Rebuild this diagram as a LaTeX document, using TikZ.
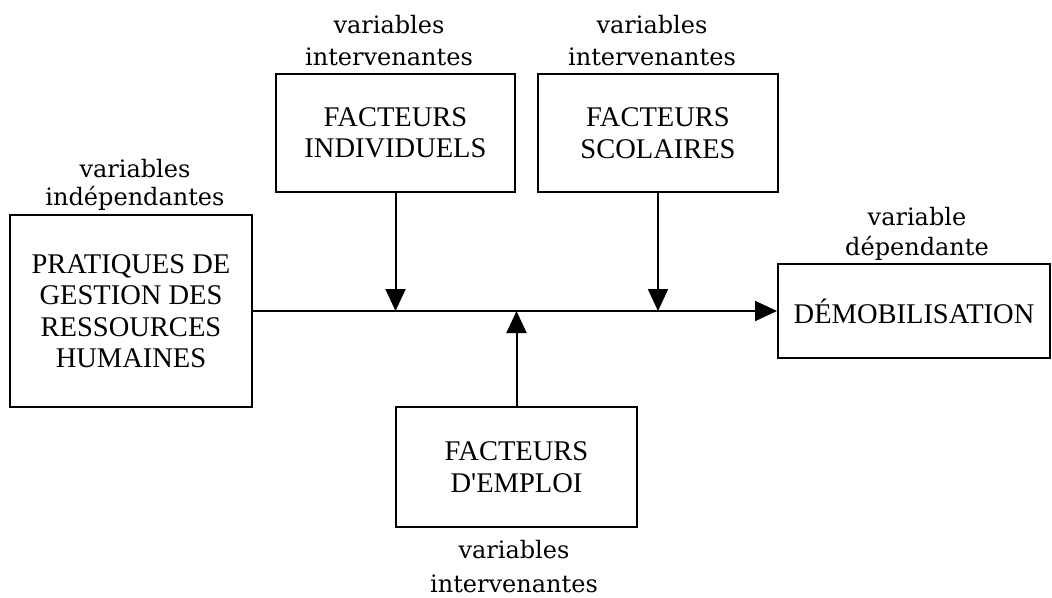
\documentclass[tikz,border=0pt]{standalone}
\usepackage{fontspec}
\setmainfont{Liberation Serif}
\newfontfamily\labfont{DejaVu Serif}
\usetikzlibrary{arrows.meta}
\begin{document}
\begin{tikzpicture}[x=1pt,y=-1pt,
  boxnode/.style={draw,line width=2pt,rectangle,inner sep=0pt,align=center,font=\fontsize{28.5}{31.5}\selectfont},
  lab/.style={align=center,anchor=base,inner sep=0pt},
  conn/.style={line width=2pt,-{Triangle[length=22pt,width=20pt]}}]
\useasboundingbox (0,0) rectangle (1052,597);
% boxes
\node[boxnode,minimum width=242pt,minimum height=192pt] (prat) at (131,311) {PRATIQUES DE\\GESTION DES\\RESSOURCES\\HUMAINES};
\node[boxnode,minimum width=239pt,minimum height=118pt] (indiv) at (395.5,133) {FACTEURS\\INDIVIDUELS};
\node[boxnode,minimum width=240pt,minimum height=118pt] (scol) at (658,133) {FACTEURS\\SCOLAIRES};
\node[boxnode,minimum width=241pt,minimum height=120pt] (empl) at (516.5,467) {FACTEURS\\D\textquotesingle EMPLOI};
\node[boxnode,minimum width=272pt,minimum height=94pt] (demob) at (914,311) {DÉMOBILISATION};
% labels
\node[lab,font=\labfont\fontsize{24}{32}\selectfont] (l1) at (389,65) {variables\\intervenantes};
\node[lab,font=\labfont\fontsize{24}{32}\selectfont] (l2) at (652,65) {variables\\intervenantes};
\node[lab,font=\labfont\fontsize{24}{28}\selectfont] (l3) at (135,205) {variables\\indépendantes};
\node[lab,font=\labfont\fontsize{24}{30}\selectfont] (l4) at (917,255) {variable\\dépendante};
\node[lab,font=\labfont\fontsize{24}{34}\selectfont] (l5) at (514,592) {variables\\intervenantes};
% connectors
\draw[conn] (prat.east) -- (demob.west);
\draw[conn] (indiv.south) -- (indiv.south |- prat.east);
\draw[conn] (scol.south) -- (scol.south |- prat.east);
\draw[conn] (empl.north) -- (empl.north |- prat.east);
\end{tikzpicture}
\end{document}
